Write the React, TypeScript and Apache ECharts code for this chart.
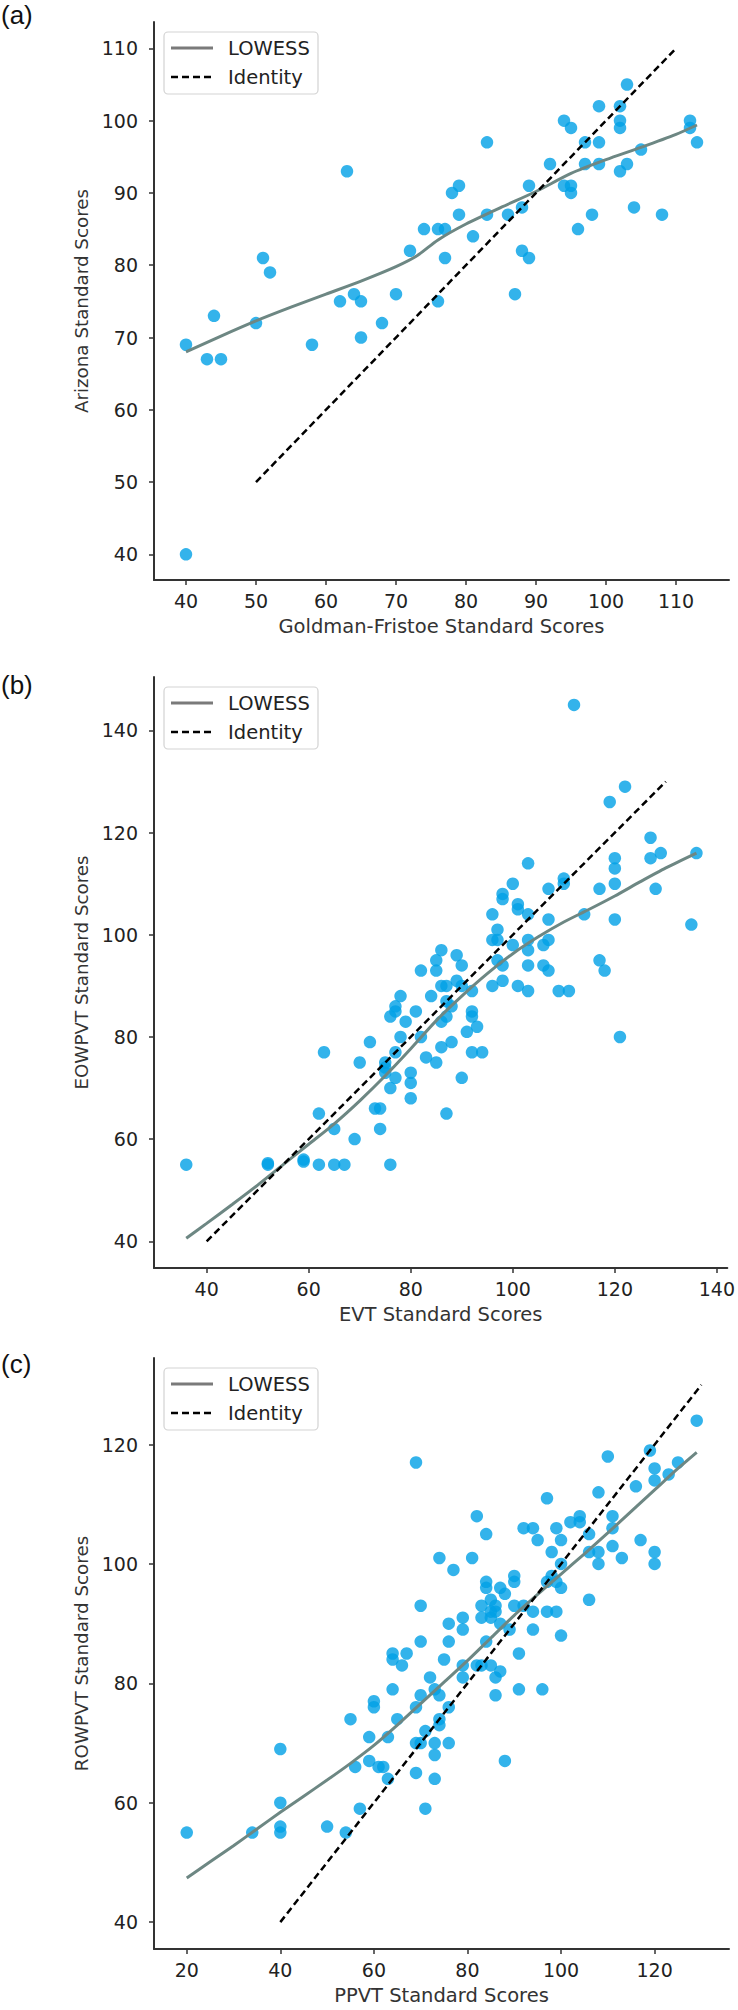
import React, { useEffect, useRef } from "react";
import * as echarts from "echarts";

// ---------- Panel (a) ----------
const aPtsX = [40, 43, 45, 44, 50, 51, 52, 58, 62, 63, 64, 65, 65, 68, 70, 72, 74, 76, 77, 76, 77, 78, 79, 79, 81, 83, 83, 86, 87, 88, 88, 89, 89, 92, 94, 95, 94, 95, 95, 96, 97, 97, 98, 99, 99, 99, 102, 102, 102, 102, 103, 103, 104, 105, 108, 112, 112, 113, 40];
const aPtsY = [69, 67, 67, 73, 72, 81, 79, 69, 75, 93, 76, 75, 70, 72, 76, 82, 85, 85, 85, 75, 81, 90, 91, 87, 84, 97, 87, 87, 76, 82, 88, 81, 91, 94, 100, 99, 91, 91, 90, 85, 97, 94, 87, 102, 97, 94, 102, 100, 99, 93, 105, 94, 88, 96, 87, 100, 99, 97, 40];
const aLowX = [40, 45, 50, 55, 60, 65, 70, 73, 76, 80, 85, 90, 95, 100, 105, 110, 113];
const aLowY = [68, 70.2, 72.3, 74.2, 76.0, 77.8, 79.8, 81.3, 83.5, 85.7, 88.0, 90.2, 92.7, 94.6, 96.3, 98.1, 99.4];
const aIdentity = [50, 110];
const aXTicks = [40, 50, 60, 70, 80, 90, 100, 110];
const aYTicks = [40, 50, 60, 70, 80, 90, 100, 110];

// ---------- Panel (b) ----------
const bPtsX = [36, 52, 52, 59, 59, 62, 65, 67, 76, 69, 65, 74, 62, 73, 74, 87, 80, 76, 90, 77, 80, 80, 75, 75, 75, 70, 85, 83, 63, 77, 92, 94, 72, 88, 86, 78, 82, 91, 93, 79, 86, 87, 92, 92, 81, 76, 77, 77, 88, 87, 78, 84, 86, 87, 92, 96, 98, 101, 103, 109, 111, 121, 82, 85, 85, 86, 89, 90, 97, 98, 103, 106, 107, 117, 118, 96, 97, 100, 103, 103, 106, 107, 97, 96, 103, 107, 101, 101, 98, 98, 100, 110, 110, 107, 103, 114, 120, 135, 117, 120, 120, 120, 128, 127, 129, 136, 127, 119, 122, 112, 89, 90];
const bPtsY = [55, 55, 55.3, 56, 55.6, 55, 55, 55, 55, 60, 62, 62, 65, 66, 66, 65, 68, 70, 72, 72, 71, 73, 73, 74, 75, 75, 75, 76, 77, 77, 77, 77, 79, 79, 78, 80, 80, 81, 82, 83, 83, 84, 84, 85, 85, 84, 85, 86, 86, 87, 88, 88, 90, 90, 89, 90, 91, 90, 89, 89, 89, 80, 93, 93, 95, 97, 96, 94, 95, 94, 94, 94, 93, 95, 93, 99, 99, 98, 99, 97, 98, 99, 101, 104, 104, 103, 106, 105, 108, 107, 110, 111, 110, 109, 114, 104, 103, 102, 109, 110, 113, 115, 109, 115, 116, 116, 119, 126, 129, 145, 91, 90];
const bLowX = [36, 40, 45, 50, 55, 60, 65, 70, 75, 80, 85, 90, 95, 100, 105, 110, 115, 120, 125, 130, 136];
const bLowY = [40.6, 43.5, 47.2, 51.0, 55.0, 59.0, 63.0, 67.5, 72.4, 77.7, 83.2, 88.0, 92.4, 96.3, 99.6, 102.5, 105.0, 107.6, 110.4, 113.1, 116.0];
const bIdentity = [40, 130];
const bXTicks = [40, 60, 80, 100, 120, 140];
const bYTicks = [40, 60, 80, 100, 120, 140];

// ---------- Panel (c) ----------
const cPtsX = [20, 34, 40, 40, 40, 40, 50, 54, 57, 71, 55, 56, 59, 59, 60, 60, 61, 62, 63, 63, 64, 64, 64, 65, 66, 67, 69, 69, 69, 70, 70, 70, 70, 71, 72, 73, 73, 73, 73, 74, 74, 74, 74, 75, 76, 76, 76, 76, 77, 79, 79, 79, 79, 81, 82, 82, 83, 83, 83, 84, 84, 84, 84, 85, 85, 85, 85, 86, 86, 86, 86, 87, 87, 87, 88, 88, 89, 90, 90, 90, 91, 91, 92, 92, 94, 94, 94, 95, 96, 97, 97, 97, 98, 98, 99, 99, 99, 100, 100, 100, 100, 102, 104, 104, 106, 106, 106, 108, 108, 108, 110, 111, 111, 111, 113, 116, 117, 119, 120, 120, 120, 120, 123, 125, 129, 69];
const cPtsY = [55, 55, 55, 56, 60, 69, 56, 55, 59, 59, 74, 66, 67, 71, 77, 76, 66, 66, 64, 71, 79, 84, 85, 74, 83, 85, 65, 70, 76, 70, 78, 87, 93, 72, 81, 64, 68, 70, 79, 73, 74, 78, 101, 84, 70, 76, 87, 90, 99, 81, 83, 89, 91, 101, 83, 108, 83, 91, 93, 87, 96, 97, 105, 83, 91, 92, 94, 78, 81, 92, 93, 82, 90, 96, 67, 95, 89, 93, 97, 98, 79, 85, 93, 106, 89, 92, 106, 104, 79, 92, 97, 111, 98, 102, 92, 97, 106, 88, 96, 100, 104, 107, 107, 108, 94, 102, 105, 100, 102, 112, 118, 103, 106, 108, 101, 113, 104, 119, 100, 102, 114, 116, 115, 117, 124, 117];
const cLowX = [20, 25, 30, 35, 40, 45, 50, 55, 60, 65, 70, 75, 80, 85, 90, 95, 100, 105, 110, 115, 120, 125, 129];
const cLowY = [47.4, 50.1, 52.8, 55.6, 58.4, 61.1, 63.8, 66.6, 69.6, 73.0, 76.6, 80.2, 83.8, 87.6, 91.4, 94.9, 98.3, 101.7, 105.2, 108.8, 112.4, 116.0, 118.7];
const cIdentity = [40, 130];
const cXTicks = [20, 40, 60, 80, 100, 120];
const cYTicks = [40, 60, 80, 100, 120];

const panelLabels = ["(a)", "(b)", "(c)"];
const xNames = ["Goldman-Fristoe Standard Scores", "EVT Standard Scores", "PPVT Standard Scores"];
const yNames = ["Arizona Standard Scores", "EOWPVT Standard Scores", "ROWPVT Standard Scores"];
const legendNames = ["LOWESS", "Identity"];

const FONT = "DejaVu Sans";

function pairs(xs: number[], ys: number[]) {
  return xs.map((x, i) => [x, ys[i]]);
}

export default function App() {
  const ref = useRef<HTMLDivElement>(null);
  useEffect(() => {
    document.body.style.margin = "0";
    const chart = echarts.init(ref.current!, null, { renderer: "svg" });

    const grids = [
      { left: 154, top: 22, width: 575, height: 558 },
      { left: 154, top: 677, width: 577, height: 591 },
      { left: 154, top: 1358, width: 575, height: 591 },
    ];
    const xr = [
      [35.43, 117.57],
      [29.68, 142.05],
      [13.0, 135.9],
    ];
    const yr = [
      [36.45, 113.65],
      [34.77, 150.47],
      [35.5, 134.5],
    ];
    const xt = [aXTicks, bXTicks, cXTicks];
    const yt = [aYTicks, bYTicks, cYTicks];

    const axisCommon = (ticks: number[], labelSize: number, nameSize: number) => ({
      type: "value",
      splitLine: { show: false },
      axisLine: { show: true, onZero: false, lineStyle: { color: "#333", width: 2 } },
      axisTick: { show: true, length: 5, customValues: ticks, lineStyle: { color: "#333", width: 1.5 } },
      axisLabel: { customValues: ticks, fontSize: labelSize, color: "#222", fontFamily: FONT },
      nameLocation: "middle",
      nameTextStyle: { fontSize: nameSize, color: "#333", fontFamily: FONT },
    });

    const xAxis = [0, 1, 2].map((i) => {
      const base: any = axisCommon(xt[i], 19, 19.5);
      base.axisLabel.margin = 11;
      return { ...base, gridIndex: i, min: xr[i][0], max: xr[i][1], name: xNames[i], nameGap: 36 };
    });
    const yAxis = [0, 1, 2].map((i) => {
      const base: any = axisCommon(yt[i], 19, 18.3);
      base.axisLabel.margin = 16;
      return { ...base, gridIndex: i, min: yr[i][0], max: yr[i][1], name: yNames[i], nameGap: 60 };
    });

    const pts = [pairs(aPtsX, aPtsY), pairs(bPtsX, bPtsY), pairs(cPtsX, cPtsY)];
    const lows = [pairs(aLowX, aLowY), pairs(bLowX, bLowY), pairs(cLowX, cLowY)];
    const ids = [aIdentity, bIdentity, cIdentity].map((r) => r.map((v) => [v, v]));

    const series: any[] = [];
    for (let i = 0; i < 3; i++) {
      series.push({
        type: "scatter",
        xAxisIndex: i,
        yAxisIndex: i,
        data: pts[i],
        symbolSize: 12.5,
        itemStyle: { color: "rgb(0,160,230)", opacity: 0.8 },
        z: 2,
      });
      series.push({
        type: "line",
        xAxisIndex: i,
        yAxisIndex: i,
        data: lows[i],
        showSymbol: false,
        symbol: "none",
        smooth: 0.25,
        lineStyle: { color: "#6d8783", width: 3 },
        z: 3,
      });
      series.push({
        type: "line",
        xAxisIndex: i,
        yAxisIndex: i,
        data: ids[i],
        showSymbol: false,
        symbol: "none",
        lineStyle: { color: "#000", width: 2.5, type: [7, 4] },
        z: 4,
      });
    }

    const legendTops = [32, 687, 1368];
    const labelTops = [2, 672, 1351];
    const graphic: any[] = [];
    for (let i = 0; i < 3; i++) {
      const t = legendTops[i];
      graphic.push({
        type: "rect",
        shape: { x: 164, y: t, width: 154, height: 62, r: 4 },
        style: { fill: "#fff", stroke: "#d3d3d3", lineWidth: 1.2 },
        z: 10,
      });
      graphic.push({
        type: "line",
        shape: { x1: 171, y1: t + 16, x2: 213, y2: t + 16 },
        style: { stroke: "#7a7a7a", lineWidth: 3 },
        z: 11,
      });
      graphic.push({
        type: "line",
        shape: { x1: 171, y1: t + 45, x2: 213, y2: t + 45 },
        style: { stroke: "#000", lineWidth: 2.5, lineDash: [7, 4] },
        z: 11,
      });
      graphic.push({
        type: "text",
        x: 228,
        y: t + 16,
        style: { text: legendNames[0], fontSize: 19.5, fontFamily: FONT, fill: "#222", verticalAlign: "middle" },
        z: 11,
      });
      graphic.push({
        type: "text",
        x: 228,
        y: t + 45,
        style: { text: legendNames[1], fontSize: 19.5, fontFamily: FONT, fill: "#222", verticalAlign: "middle" },
        z: 11,
      });
      graphic.push({
        type: "text",
        x: 1,
        y: labelTops[i],
        style: { text: panelLabels[i], fontSize: 26, fontFamily: "Liberation Sans", fill: "#111" },
        z: 11,
      });
    }

    chart.setOption({
      animation: false,
      backgroundColor: "#fff",
      grid: grids,
      xAxis,
      yAxis,
      series,
      graphic,
    });
    return () => chart.dispose();
  }, []);
  return <div ref={ref} style={{ width: 738, height: 2010 }} />;
}
